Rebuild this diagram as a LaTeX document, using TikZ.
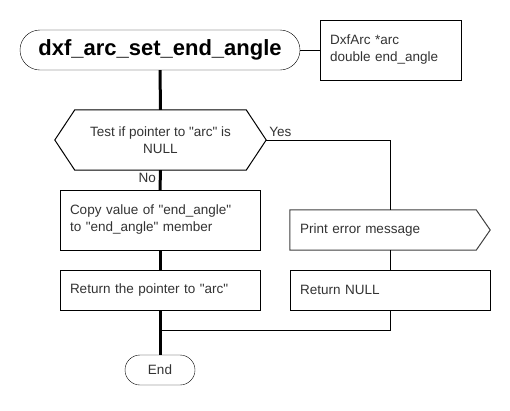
\documentclass[tikz,border=0pt]{standalone}
\usepackage{fontspec}
\setmainfont{Liberation Sans}[Ligatures=TeXOff]
\definecolor{txt}{HTML}{333333}
\tikzset{
  base/.style={font=\fontsize{13.5}{17}\selectfont, text=txt},
  procbox/.style={base, draw=black, rectangle, minimum width=200pt, minimum height=#1, text width=180pt, inner xsep=10pt, inner ysep=0pt, align=left},
  termbox/.style={draw=black, rectangle, inner sep=0pt},
  ghost/.style={rectangle, inner sep=0pt},
  thin/.style={draw=black, line width=1pt},
  thick/.style={draw=black, line width=3pt},
}
\begin{document}
\begin{tikzpicture}[x=1pt,y=-1pt]
\useasboundingbox[fill=white] (0,0) rectangle (510,410);
% title terminator
\node[termbox, minimum width=280pt, minimum height=40pt, rounded corners=20pt, font=\fontsize{22}{26}\selectfont\bfseries] (title) at (160,50) {dxf\_arc\_set\_end\_angle};
% parameters
\node[procbox=60pt, minimum width=141pt, text width=121pt] (params) at (390.5,50) {DxfArc *arc\\double end\_angle};
% decision hexagon
\node[ghost, base, minimum width=211pt, minimum height=60pt, align=center] (test) at (160.5,140) {Test if pointer to "arc" is\\NULL};
\draw[thin] ([xshift=20pt]test.north west) -- ([xshift=-20pt]test.north east) -- (test.east) -- ([xshift=-20pt]test.south east) -- ([xshift=20pt]test.south west) -- (test.west) -- cycle;
% no branch
\node[procbox=60pt] (copy) at (160,220) {Copy value of "end\_angle"\\to "end\_angle" member};
\node[procbox=40pt] (ret) at (160,290) {Return the pointer to "arc"};
% yes branch
\node[ghost, base, minimum width=200pt, minimum height=40pt, text width=180pt, inner xsep=10pt, align=left] (err) at (390,230) {Print error message};
\draw[line width=1pt, draw=black!75] (err.north west) -- ([xshift=-14pt]err.north east) -- (err.east) -- ([xshift=-14pt]err.south east) -- (err.south west) -- cycle;
\node[procbox=40pt] (retnull) at (390,290) {Return NULL};
% end
\node[termbox, base, minimum width=70pt, minimum height=30pt, rounded corners=15pt] (end) at (160,370) {End};
\coordinate (join) at (160,330);
% connectors
\draw[thin] (title.east) -- (params.west);
\draw[thick] (title.south) -- (test.north);
\draw[thick] (test.south) -- (copy.north);
\draw[thick] (copy.south) -- (ret.north);
\draw[thick] (ret.south) -- (end.north);
\draw[thin] (test.east) -| (err.north);
\draw[thin] (err.south) -- (retnull.north);
\draw[thin] (retnull.south) |- (join);
% labels
\node[base, anchor=south west, inner sep=1pt] at ([xshift=2pt,yshift=2pt]test.east) {Yes};
\node[base, anchor=east, inner sep=1pt] at (157,178) {No};
\end{tikzpicture}
\end{document}
